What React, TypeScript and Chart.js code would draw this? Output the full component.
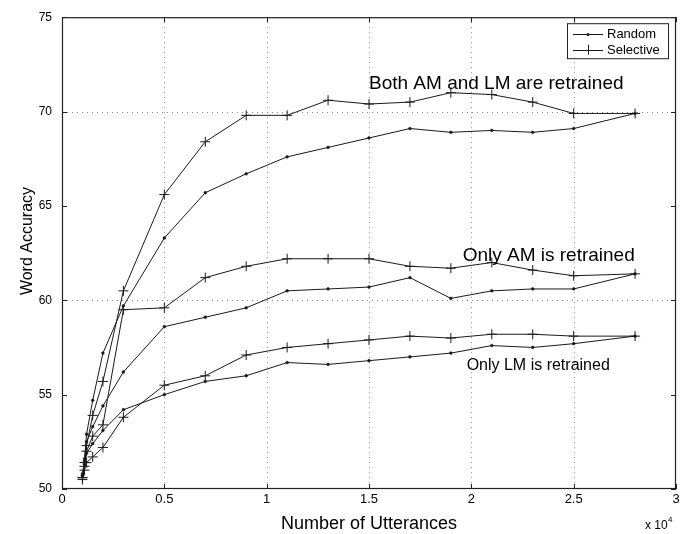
import React, { useEffect, useRef } from "react";
import { Chart, registerables } from "chart.js";

Chart.register(...registerables);

// ---- data ----
const utterances = [1000, 1100, 1200, 1500, 2000, 3000, 5000, 7000, 9000, 11000, 13000, 15000, 17000, 19000, 21000, 23000, 25000, 28000];
const bothRandom = [50.7, 51.6, 52.9, 54.7, 57.2, 59.7, 63.3, 65.7, 66.7, 67.6, 68.1, 68.6, 69.1, 68.9, 69.0, 68.9, 69.1, 69.9];
const bothSelective = [50.6, 51.4, 52.3, 53.9, 55.7, 60.5, 65.6, 68.4, 69.8, 69.8, 70.6, 70.4, 70.5, 71.0, 70.9, 70.5, 69.9, 69.9];
const amRandom = [50.7, 51.5, 52.5, 53.3, 54.4, 56.2, 58.6, 59.1, 59.6, 60.5, 60.6, 60.7, 61.2, 60.1, 60.5, 60.6, 60.6, 61.4];
const amSelective = [50.6, 51.2, 52.0, 52.8, 53.4, 59.5, 59.6, 61.2, 61.8, 62.2, 62.2, 62.2, 61.8, 61.7, 62.0, 61.6, 61.3, 61.4];
const lmRandom = [50.8, 51.3, 51.9, 52.4, 53.1, 54.2, 55.0, 55.7, 56.0, 56.7, 56.6, 56.8, 57.0, 57.2, 57.6, 57.5, 57.7, 58.1];
const lmSelective = [50.5, 51.0, 51.4, 51.7, 52.2, 53.8, 55.5, 56.0, 57.1, 57.5, 57.7, 57.9, 58.1, 58.0, 58.2, 58.2, 58.1, 58.1];

const xTicks = [0, 5000, 10000, 15000, 20000, 25000, 30000];
const yTicks = [50, 55, 60, 65, 70, 75];
const xGridValues = [5000, 10000, 15000, 20000, 25000];
const yGridValues = [60, 70];

const legendLabels = ["Random", "Selective"];
const annotations = [
  { text: "Both AM and LM are retrained", x: 15000, y: 71.19, size: 19 },
  { text: "Only AM is retrained", x: 19575, y: 62.09, size: 19 },
  { text: "Only LM is retrained", x: 19770, y: 56.3, size: 16 },
];

const FONT = "'Liberation Sans', Arial, Helvetica, sans-serif";
const INK = "#1a1a1a";

const toPoints = (vals: number[]) => vals.map((v, i) => ({ x: utterances[i], y: v }));

const randomStyle = {
  borderColor: INK,
  backgroundColor: INK,
  borderWidth: 1,
  pointStyle: "circle" as const,
  pointRadius: 1.4,
  pointBorderWidth: 0.5,
  pointBackgroundColor: INK,
  pointBorderColor: INK,
  tension: 0,
};
const selectiveStyle = {
  borderColor: INK,
  backgroundColor: INK,
  borderWidth: 1,
  pointStyle: "cross" as const,
  pointRadius: 5,
  pointBorderWidth: 1,
  pointBorderColor: INK,
  tension: 0,
};

const framePlugin = {
  id: "frame",
  beforeDatasetsDraw(chart: any) {
    const { ctx, chartArea: a, scales } = chart;
    const x = scales.x;
    const y = scales.y;
    ctx.save();
    ctx.strokeStyle = "#8a8a8a";
    ctx.lineWidth = 1;
    ctx.setLineDash([1, 4]);
    xGridValues.forEach((v) => {
      const px = Math.round(x.getPixelForValue(v)) + 0.5;
      ctx.beginPath();
      ctx.moveTo(px, a.top);
      ctx.lineTo(px, a.bottom);
      ctx.stroke();
    });
    yGridValues.forEach((v) => {
      const py = Math.round(y.getPixelForValue(v)) + 0.5;
      ctx.beginPath();
      ctx.moveTo(a.left, py);
      ctx.lineTo(a.right, py);
      ctx.stroke();
    });
    ctx.restore();
  },
  afterDatasetsDraw(chart: any) {
    const { ctx, chartArea: a, scales } = chart;
    const x = scales.x;
    const y = scales.y;
    ctx.save();
    // box
    ctx.strokeStyle = "#222";
    ctx.lineWidth = 1.2;
    ctx.setLineDash([]);
    ctx.strokeRect(a.left + 0.5, a.top + 0.5, a.right - a.left - 1, a.bottom - a.top - 1);
    // inward ticks
    ctx.lineWidth = 1;
    const tl = 5;
    xTicks.forEach((v) => {
      const px = Math.round(x.getPixelForValue(v)) + 0.5;
      ctx.beginPath();
      ctx.moveTo(px, a.bottom);
      ctx.lineTo(px, a.bottom - tl);
      ctx.moveTo(px, a.top);
      ctx.lineTo(px, a.top + tl);
      ctx.stroke();
    });
    yTicks.forEach((v) => {
      const py = Math.round(y.getPixelForValue(v)) + 0.5;
      ctx.beginPath();
      ctx.moveTo(a.left, py);
      ctx.lineTo(a.left + tl, py);
      ctx.moveTo(a.right, py);
      ctx.lineTo(a.right - tl, py);
      ctx.stroke();
    });

    // annotations
    ctx.fillStyle = "#000";
    ctx.textBaseline = "alphabetic";
    ctx.textAlign = "left";
    annotations.forEach((an) => {
      ctx.font = `${an.size}px ${FONT}`;
      ctx.fillText(an.text, x.getPixelForValue(an.x), y.getPixelForValue(an.y));
    });

    // legend
    const lx = a.right - 109;
    const ly = a.top + 6;
    const lw = 101;
    const lh = 35;
    ctx.fillStyle = "#fff";
    ctx.fillRect(lx, ly, lw, lh);
    ctx.strokeStyle = "#222";
    ctx.lineWidth = 1;
    ctx.strokeRect(lx + 0.5, ly + 0.5, lw, lh);
    ctx.font = `13px ${FONT}`;
    ctx.textBaseline = "middle";
    legendLabels.forEach((lab, i) => {
      const cy = ly + 10.5 + i * 16;
      const sx0 = lx + 6;
      const sx1 = lx + 36;
      const cx = (sx0 + sx1) / 2;
      ctx.strokeStyle = INK;
      ctx.beginPath();
      ctx.moveTo(sx0, Math.round(cy) + 0.5);
      ctx.lineTo(sx1, Math.round(cy) + 0.5);
      ctx.stroke();
      if (i === 0) {
        ctx.fillStyle = INK;
        ctx.beginPath();
        ctx.arc(cx, Math.round(cy) + 0.5, 1.5, 0, Math.PI * 2);
        ctx.fill();
      } else {
        ctx.beginPath();
        ctx.moveTo(Math.round(cx) + 0.5, cy - 5);
        ctx.lineTo(Math.round(cx) + 0.5, cy + 5);
        ctx.stroke();
      }
      ctx.fillStyle = "#000";
      ctx.fillText(lab, lx + 40, cy + 0.5);
    });

    // axis titles
    ctx.fillStyle = "#000";
    ctx.textBaseline = "alphabetic";
    ctx.textAlign = "center";
    ctx.font = `18px ${FONT}`;
    ctx.fillText("Number of Utterances", (a.left + a.right) / 2, 529);
    ctx.save();
    ctx.translate(32, 241);
    ctx.rotate(-Math.PI / 2);
    ctx.font = `16px ${FONT}`;
    ctx.fillText("Word Accuracy", 0, 0);
    ctx.restore();
    // exponent
    ctx.textAlign = "left";
    ctx.font = `12px ${FONT}`;
    ctx.fillText("x 10", 645, 529);
    ctx.font = `8px ${FONT}`;
    ctx.fillText("4", 668, 522);
    ctx.restore();
  },
};

export default function App() {
  const ref = useRef<HTMLCanvasElement | null>(null);
  useEffect(() => {
    if (!ref.current) return;
    const chart = new Chart(ref.current, {
      type: "line",
      data: {
        datasets: [
          { label: "Both AM and LM - Random", data: toPoints(bothRandom), ...randomStyle },
          { label: "Both AM and LM - Selective", data: toPoints(bothSelective), ...selectiveStyle },
          { label: "Only AM - Random", data: toPoints(amRandom), ...randomStyle },
          { label: "Only AM - Selective", data: toPoints(amSelective), ...selectiveStyle },
          { label: "Only LM - Random", data: toPoints(lmRandom), ...randomStyle },
          { label: "Only LM - Selective", data: toPoints(lmSelective), ...selectiveStyle },
        ],
      },
      options: {
        responsive: false,
        animation: false,
        devicePixelRatio: 1,
        layout: { padding: { top: 10, right: 24, left: 0, bottom: 0 } },
        plugins: {
          legend: { display: false },
          tooltip: { enabled: false },
          title: { display: false },
        },
        scales: {
          x: {
            type: "linear",
            min: 0,
            max: 30000,
            afterBuildTicks: (s: any) => {
              s.ticks = xTicks.map((v) => ({ value: v }));
            },
            afterFit: (s: any) => {
              s.height = 45;
            },
            ticks: {
              autoSkip: false,
              maxRotation: 0,
              padding: 3,
              color: "#000",
              font: { family: FONT, size: 13 },
              callback: (v: any) => String(Number(v) / 10000),
            },
            grid: { display: false, drawTicks: false },
            border: { display: false },
          },
          y: {
            type: "linear",
            min: 50,
            max: 75,
            afterBuildTicks: (s: any) => {
              s.ticks = yTicks.map((v) => ({ value: v }));
            },
            afterFit: (s: any) => {
              s.width = 62;
            },
            ticks: {
              padding: 10,
              color: "#000",
              font: { family: FONT, size: 12 },
            },
            grid: { display: false, drawTicks: false },
            border: { display: false },
          },
        },
      },
      plugins: [framePlugin],
    } as any);
    return () => chart.destroy();
  }, []);
  return (
    <div style={{ position: "absolute", left: 0, top: 0, width: 700, height: 534, background: "#fff" }}>
      <canvas ref={ref} width={700} height={534} style={{ display: "block" }} />
    </div>
  );
}
